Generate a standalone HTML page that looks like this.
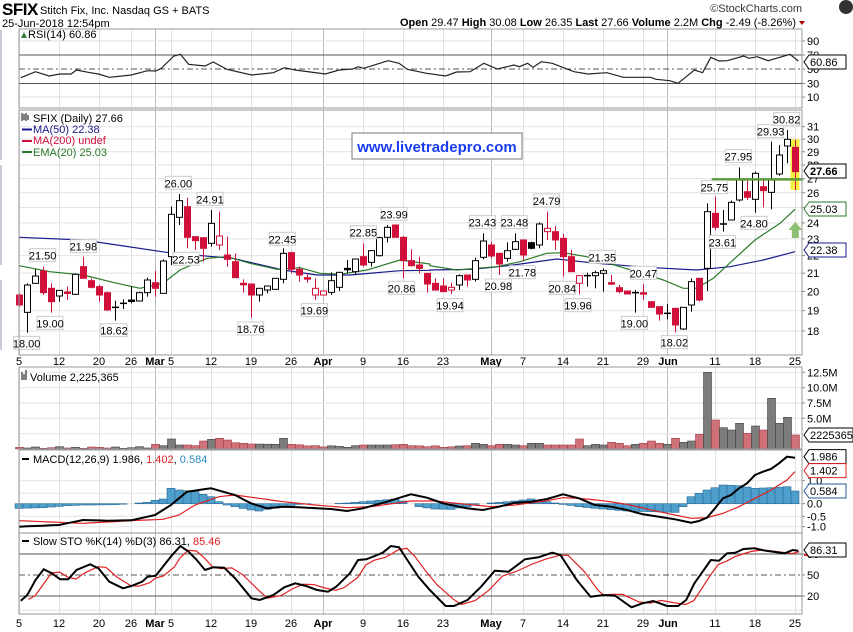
<!DOCTYPE html>
<html><head><meta charset="utf-8">
<style>
body{margin:0;background:#fff;width:853px;height:632px;overflow:hidden}
svg{display:block;font-family:"Liberation Sans",sans-serif}
</style></head><body>
<div id="c"></div>
<script>
var L=19,R=802,W=853;
function X(i){return 19+8*i;}
function interp(k,i){for(var j=0;j<k.length-1;j++){if(i>=k[j][0]&&i<=k[j+1][0]){var t=(i-k[j][0])/(k[j+1][0]-k[j][0]||1);return k[j][1]+t*(k[j+1][1]-k[j][1]);}}return k[k.length-1][1];}
var s='<svg xmlns="http://www.w3.org/2000/svg" width="853" height="632">';
s+='<text x="2" y="15" font-size="17" font-weight="bold" fill="#000" style="letter-spacing:-0.5px">SFIX</text>';
s+='<text x="40" y="14" font-size="11" fill="#000">Stitch Fix, Inc.  Nasdaq GS + BATS</text>';
s+='<text x="2" y="27" font-size="11">25-Jun-2018 12:54pm</text>';
s+='<text x="802" y="12" font-size="11" text-anchor="end" fill="#333">©StockCharts.com</text>';
s+='<text x="796" y="26" font-size="11" text-anchor="end"><tspan font-weight="bold">Open</tspan> 29.47 <tspan font-weight="bold">High</tspan> 30.08 <tspan font-weight="bold">Low</tspan> 26.35 <tspan font-weight="bold">Last</tspan> 27.66 <tspan font-weight="bold">Volume</tspan> 2.2M <tspan font-weight="bold">Chg</tspan> -2.49 (-8.26%)</text>';
s+='<path d="M799,21 l6,0 l-3,4z" fill="#a00"/>';
s+='<circle cx="846" cy="7" r="7" fill="#333"/>';
s+='<rect x="0" y="30" width="2" height="130" fill="#c8ccd8"/><rect x="0" y="165" width="2" height="100" fill="#c8ccd8"/><rect x="0" y="280" width="2" height="70" fill="#c8ccd8"/>';
var weeks=[0,5,10,14,19,24,29,34,43,48,53,63,68,73,78,87,92,97];
var months=[17,38,59,81];
function vgrid(y1,y2){var o='';weeks.forEach(function(i){o+='<line x1="'+(X(i)+.5)+'" y1="'+y1+'" x2="'+(X(i)+.5)+'" y2="'+y2+'" stroke="#e2e2e2"/>';});months.forEach(function(i){o+='<line x1="'+(X(i)+.5)+'" y1="'+y1+'" x2="'+(X(i)+.5)+'" y2="'+y2+'" stroke="#bbb"/>';});return o;}
function hline(y,c,d){return '<line x1="'+L+'" y1="'+y+'" x2="'+R+'" y2="'+y+'" stroke="'+c+'"'+(d?' stroke-dasharray="'+d+'"':'')+'/>';}
function rlab(y,t){return '<text x="807" y="'+(y+4)+'" font-size="11">'+t+'</text><line x1="802" y1="'+y+'" x2="805" y2="'+y+'" stroke="#888"/>';}
function box(y,t,c,bold){var w=t.length*6.2+6;return '<path d="M804,'+y+' l5,-7 h'+w+' v14 h-'+w+'z" fill="#fff" stroke="'+c+'"/><text x="810" y="'+(y+4)+'" font-size="11" '+(bold?'font-weight="bold" font-size="12"':'')+'>'+t+'</text>';}
s+=vgrid(29,108);
[41,97].forEach(function(y){s+=hline(y,'#e2e2e2');});
s+=hline(55,'#555')+hline(83.5,'#555')+hline(69,'#555','6,3,2,3');
s+=rlab(41,'90')+rlab(55,'70')+rlab(69,'50')+rlab(83.5,'30')+rlab(97,'10');
var rsi=[[38,233],[65,215],[90,228],[110,222],[130,222],[140,210],[165,218],[180,222],[200,232],[240,225],[270,212],[285,213],[295,205],[318,168],[330,163],[345,193],[375,198],[390,186],[415,208],[460,225],[500,218],[520,203],[540,210],[595,222],[620,210],[645,207],[655,200],[665,205],[710,182],[730,190],[745,208],[780,220],[815,228],[835,216],[860,215],[885,190],[910,207],[940,195],[950,200],[965,190],[975,202],[990,185],[1010,190],[1050,215],[1075,222],[1110,218],[1140,232],[1190,232],[1200,238],[1225,242],[1240,250],[1255,230],[1270,210],[1285,218],[1300,172],[1315,183],[1330,182],[1360,168],[1370,175],[1385,170],[1405,182],[1445,163],[1460,183]];
s+='<polyline fill="none" stroke="#222" stroke-width="1.2" points="'+rsi.map(function(p){return (p[0]/1.829).toFixed(1)+','+(p[1]/3).toFixed(1);}).join(' ')+'"/>';
s+='<rect x="'+L+'" y="29" width="'+(R-L)+'" height="79" fill="none" stroke="#999"/>';
s+='<path d="M21,38 l3,-6 l3,6z" fill="#3a7a3a"/><text x="28" y="38" font-size="11">RSI(14) 60.86</text>';
s+=box(62,'60.86','#000');
function PY(p){return 331-375.8*Math.log(p/18);}
s+=vgrid(110,355);
for(var p=18;p<=31;p++){s+=hline(PY(p).toFixed(1),'#e2e2e2');s+=rlab(PY(p),String(p));}
var C=[[0,'r',555,585,550,590],[1,'w',525,607,520,668],[2,'w',498,520,478,520],[3,'r',483,548,470,555],[4,'r',535,575,520,608],[5,'w',541,558,541,575],[6,'r',546,550,530,570],[7,'w',493,553,490,555],[8,'r',470,505,440,505],[9,'r',512,532,505,535],[10,'r',530,555,525,575],[11,'r',548,600,545,602],[12,'d',592,592,572,632],[13,'d',580,580,568,597],[14,'k',570,574,530,580],[15,'w',548,573,545,575],[16,'w',510,548,503,560],[17,'r',518,535,483,560],[18,'w',453,550,448,550],[19,'w',313,440,290,465],[20,'w',272,322,252,345],[21,'r',290,382,263,415],[22,'r',380,392,380,420],[23,'r',383,415,383,455],[24,'w',340,400,300,410],[25,'h',378,405,305,420],[26,'r',435,448,380,470],[27,'r',455,503,430,503],[28,'r',520,524,508,548],[29,'r',522,555,522,623],[30,'w',535,555,535,575],[31,'w',528,540,528,550],[32,'w',505,538,505,538],[33,'w',430,508,415,520],[34,'r',428,478,425,490],[35,'r',478,495,470,515],[36,'r',503,507,493,518],[37,'h',535,555,505,570],[38,'h',543,555,543,555],[39,'w',512,547,487,555],[40,'w',487,532,487,543],[41,'k',475,479,450,490],[42,'w',447,485,445,495],[43,'r',440,465,400,470],[44,'w',422,457,422,470],[45,'w',383,437,380,440],[46,'w',352,382,345,397],[47,'r',345,382,343,382],[48,'r',382,452,378,505],[49,'r',452,467,418,470],[50,'r',465,475,440,490],[51,'r',490,522,490,548],[52,'r',520,540,505,540],[53,'r',528,545,505,545],[54,'h',532,540,518,552],[55,'w',497,525,493,540],[56,'r',495,510,495,530],[57,'w',452,508,443,515],[58,'w',393,442,370,448],[59,'r',405,438,396,445],[60,'r',430,462,430,495],[61,'w',422,445,397,455],[62,'w',395,418,370,420],[63,'r',390,435,388,450],[64,'k',398,415,395,418],[65,'w',342,405,337,415],[66,'h',355,365,305,390],[67,'r',365,390,348,420],[68,'r',385,440,372,500],[69,'r',440,485,420,485],[70,'h',497,520,497,553],[71,'d',497,497,488,530],[72,'w',488,497,482,535],[73,'w',482,490,475,545],[74,'r',518,522,495,525],[75,'r',533,545,525,550],[76,'r',543,552,543,552],[77,'d',548,548,540,608],[78,'r',548,552,522,570],[79,'r',575,592,575,592],[80,'r',590,612,590,632],[81,'d',610,610,582,628],[82,'r',595,645,595,667],[83,'w',592,657,592,660],[84,'w',515,585,505,605],[85,'r',505,570,505,575],[86,'w',305,475,280,543],[87,'r',310,352,260,360],[88,'d',342,342,300,365],[89,'w',277,330,272,330],[90,'w',210,270,172,275],[91,'r',245,262,212,270],[92,'w',190,268,185,308],[93,'r',230,242,210,292],[94,'w',210,247,95,298],[95,'w',135,192,105,197],[96,'w',88,108,60,160],[97,'r',112,185,90,240]];
function cy(v){return 110+v/3;}
s+='<rect x="'+(X(97)-4.5)+'" y="'+cy(88)+'" width="9" height="'+((240-88)/3)+'" fill="#f4f040"/>';
var ma=[[19,382],[83,390],[173,430],[233,445],[283,480],[317,495],[350,495],[400,482],[430,481]];
var ma2=[[0,480],[130,478],[250,465],[380,447],[500,460],[650,472],[800,480],[900,470],[1000,450],[1095,425]];
var em=[[19,467],[50,485],[83,495],[117,520],[140,535],[163,520],[180,480],[207,445],[227,440],[250,460],[277,478],[300,473],[320,490],[340,493],[367,480],[400,450],[430,462]];
var em2=[[0,467],[80,480],[200,470],[270,455],[350,430],[400,428],[470,440],[570,470],[700,510],[760,535],[800,535],[850,505],[920,440],[975,390],[1050,340],[1095,298]];
function pl(a,b,c,w){var pts=a.map(function(p){return p[0]+','+cy(p[1]).toFixed(1);}).concat(b.map(function(p){return (430+p[0]/3).toFixed(1)+','+cy(p[1]).toFixed(1);}));return '<polyline fill="none" stroke="'+c+'" stroke-width="'+w+'" points="'+pts.join(' ')+'"/>';}
s+=pl(ma,ma2,'#1a1a8c',1.2)+pl(em,em2,'#2a7a2a',1.2);
C.forEach(function(c){var x=X(c[0]),t=c[1],bt=cy(c[2]),bb=cy(c[3]),h=cy(c[4]),l=cy(c[5]);
 var col=(t=='r'||t=='h')?'#d0103a':'#000';
 s+='<line x1="'+(x+.5)+'" y1="'+h+'" x2="'+(x+.5)+'" y2="'+l+'" stroke="'+col+'"/>';
 if(t=='d'){s+='<line x1="'+(x-3)+'" y1="'+bt+'" x2="'+(x+4)+'" y2="'+bt+'" stroke="#000" stroke-width="1.5"/>';}
 else{var hh=Math.max(bb-bt,1.5);var f=(t=='r')?'#d0103a':(t=='k'?'#000':'#fff');s+='<rect x="'+(x-2.5)+'" y="'+bt+'" width="6" height="'+hh+'" fill="'+f+'" stroke="'+col+'" stroke-width="1"/>';}
});
s+='<line x1="'+(430+845/3)+'" y1="'+cy(208)+'" x2="'+(430+1120/3)+'" y2="'+cy(208)+'" stroke="#5a9a3a" stroke-width="2.5"/>';
s+='<path d="M'+(430+1075/3)+','+cy(360)+' l7,-8 l7,8 h-3.5 v8 h-7 v-8z" fill="#8cc070"/>';
var lb=[[80,700,'18.00'],[128,437,'21.50'],[150,640,'19.00'],[250,410,'21.98'],[342,662,'18.62'],[535,220,'26.00'],[630,268,'24.91'],[558,448,'22.53'],[752,657,'18.76'],[847,388,'22.45'],[943,602,'19.69'],[1090,368,'22.85'],[1182,313,'23.99'],[1205,535,'20.86']];
var lb2=[[60,587,'19.94'],[157,338,'23.43'],[205,528,'20.98'],[253,338,'23.48'],[277,488,'21.78'],[350,273,'24.79'],[397,535,'20.84'],[444,587,'19.96'],[517,442,'21.35'],[640,490,'20.47'],[613,640,'19.00'],[733,698,'18.02'],[853,233,'25.75'],[877,397,'23.61'],[925,140,'27.95'],[972,340,'24.80'],[1022,65,'29.93'],[1070,28,'30.82']];
function plab(x,y,t){return '<rect x="'+(x-13)+'" y="'+(y-7)+'" width="26" height="13" fill="#fff" stroke="#ccc"/><text x="'+x+'" y="'+(y+4)+'" font-size="11" text-anchor="middle">'+t+'</text>';}
lb.forEach(function(a){s+=plab(a[0]/3,cy(a[1]),a[2]);});
lb2.forEach(function(a){s+=plab(430+a[0]/3,cy(a[1]),a[2]);});
s+='<rect x="352" y="133" width="170" height="26" fill="#fff" stroke="#777"/><text x="437" y="152" font-size="15" font-weight="bold" fill="#1a3cf0" text-anchor="middle">www.livetradepro.com</text>';
s+='<rect x="'+L+'" y="110" width="'+(R-L)+'" height="245" fill="none" stroke="#999"/>';
s+='<text x="33" y="122" font-size="11">SFIX (Daily) 27.66</text><path d="M22,113 v8 M24,114 v6 M26,113 v8 M28,115 v5" stroke="#000"/>';
s+='<line x1="22" y1="129.5" x2="32" y2="129.5" stroke="#1a1a8c" stroke-width="2"/><text x="33" y="133" font-size="11" fill="#1a1a8c">MA(50) 22.38</text>';
s+='<line x1="22" y1="141" x2="32" y2="141" stroke="#d0103a" stroke-width="2"/><text x="33" y="144" font-size="11" fill="#d0103a">MA(200) undef</text>';
s+='<line x1="22" y1="152" x2="32" y2="152" stroke="#2a7a2a" stroke-width="2"/><text x="33" y="156" font-size="11" fill="#2a7a2a">EMA(20) 25.03</text>';
s+=box(cy(183),'27.66','#000',1)+box(cy(297),'25.03','#2a7a2a')+box(cy(420),'22.38','#1a1a8c');
var dl=[[0,'5'],[5,'12'],[10,'20'],[14,'26'],[19,'5'],[24,'12'],[29,'19'],[34,'26'],[43,'9'],[48,'16'],[53,'23'],[63,'7'],[68,'14'],[73,'21'],[78,'29'],[87,'11'],[92,'18'],[97,'25']];
var ml=[[17,'Mar',155],[38,'Apr',323],[59,'May',491],[81,'Jun',668]];
function dates(y){var o='';dl.forEach(function(d){o+='<text x="'+X(d[0])+'" y="'+y+'" font-size="11" text-anchor="middle">'+d[1]+'</text>';});ml.forEach(function(m){o+='<text x="'+m[2]+'" y="'+y+'" font-size="11" font-weight="bold" text-anchor="middle">'+m[1]+'</text>';});return o;}
s+=dates(365);
s+=vgrid(367,449);
[372.3,387.7,403,418.3,433.7].forEach(function(y){s+=hline(y,'#e2e2e2');});
s+=rlab(372.3,'12.5M')+rlab(387.7,'10.0M')+rlab(403,'7.5M')+rlab(418.3,'5.0M');
var vo=[[0,277],[16,277],[17,268],[18,272],[19,252],[20,270],[21,270],[22,272],[23,258],[24,253],[25,250],[26,255],[27,263],[28,265],[29,267],[32,268],[33,250],[34,268],[37,272],[41,275],[42,272],[43,270],[46,270],[48,268],[49,272],[55,275],[56,272],[57,265],[58,268],[59,272],[60,268],[61,268],[63,272],[64,265],[65,265],[66,270],[69,270],[70,252],[71,272],[72,268],[73,270],[74,262],[75,265],[76,272],[77,268],[78,265],[79,258],[80,265],[81,268],[82,250],[83,262],[84,258],[85,238],[86,52],[87,195],[88,218],[89,225],[90,205],[91,235],[92,213],[93,225],[94,130],[95,205],[96,187],[97,240]];
var jitter=[0,2,-1,3,1,-2,2,0,3,-1];
C.forEach(function(c){var i=c[0];var v=interp(vo,i);if(i<17||(i>35&&i<42)||(i>49&&i<56))v+=jitter[i%10];v=Math.min(v,280);var y=355+v/3;var red=(c[1]=='r'||c[1]=='h');
 s+='<rect x="'+(X(i)-3.5)+'" y="'+y.toFixed(1)+'" width="8" height="'+(449-y).toFixed(1)+'" fill="'+(red?'#d07078':'#7c7c7c')+'" stroke="'+(red?'#a04048':'#444')+'" stroke-width=".6"/>';});
s+='<rect x="'+L+'" y="367" width="'+(R-L)+'" height="82" fill="none" stroke="#999"/>';
s+='<path d="M22,380 v-8 M24,380 v-6 M26,380 v-10" stroke="#555" stroke-width="1.5"/><text x="30" y="381" font-size="11">Volume 2,225,365</text>';
s+='<path d="M804,435 l5,-7 h44 v14 h-44z" fill="#fff" stroke="#000"/><text x="810" y="439" font-size="11">2225365.0</text>';
s+=vgrid(450,533);
function my(v){return 355+v/3;}
[my(377),my(415),my(446),my(484),my(515)].forEach(function(y){s+=hline(y.toFixed(1),'#e2e2e2');});
s+=rlab(my(377),'1.0')+rlab(my(446),'0.0')+rlab(my(484),'-0.5')+rlab(my(515),'-1.0');
var hk=[[0,460],[3,458],[6,452],[8,450],[12,449],[14,446],[16,442],[17,436],[18,432],[19,400],[20,405],[21,407],[22,410],[23,418],[24,425],[25,440],[26,450],[27,455],[28,460],[29,465],[30,468],[31,463],[33,455],[35,448],[37,446],[39,446],[41,444],[43,440],[45,436],[47,432],[48,438],[49,446],[50,455],[52,462],[54,463],[56,455],[58,446],[60,442],[62,438],[64,432],[66,440],[68,448],[70,455],[73,462],[76,468],[79,470],[82,472],[83,455],[84,425],[85,415],[86,405],[87,398],[88,390],[90,392],[92,400],[94,398],[96,395],[97,408]];
var z=my(446);
for(var i=0;i<98;i++){var y=my(interp(hk,i));var t=Math.min(y,z),h=Math.abs(y-z);s+='<rect x="'+(X(i)-4)+'" y="'+t.toFixed(1)+'" width="8" height="'+h.toFixed(1)+'" fill="#4f9fcc" stroke="#2a6a9a" stroke-width=".6"/>';}
var mk=[[0,515],[5,510],[8,495],[11,497],[14,496],[17,480],[19,450],[21,410],[24,400],[27,420],[29,445],[31,460],[33,455],[36,458],[39,462],[41,468],[43,460],[46,440],[48,425],[49,418],[51,428],[53,445],[56,460],[58,465],[60,455],[62,443],[64,440],[66,432],[68,418],[70,430],[72,450],[74,455],[76,465],[78,478],[80,485],[82,493],[84,503],[85,498],[86,488],[87,460],[88,430],[89,420],[90,400],[91,385],[92,360],[93,350],[94,342],[95,325],[96,305],[97,308]];
var sk=[[0,497],[8,505],[14,497],[18,493],[20,480],[22,450],[25,425],[27,420],[30,430],[33,440],[37,450],[41,458],[44,455],[47,445],[49,438],[52,438],[56,448],[59,455],[62,450],[66,437],[68,428],[70,430],[73,437],[76,448],[79,465],[82,480],[84,490],[86,488],[88,475],[90,455],[92,430],[94,405],[96,375],[97,350]];
function line(k,c,w,f){var pts=[];for(var i=0;i<98;i++)pts.push(X(i)+','+f(interp(k,i)).toFixed(1));return '<polyline fill="none" stroke="'+c+'" stroke-width="'+w+'" points="'+pts.join(' ')+'"/>';}
s+=line(sk,'#e02020',1.2,my)+line(mk,'#000',2,my);
s+='<rect x="'+L+'" y="450" width="'+(R-L)+'" height="83" fill="none" stroke="#999"/>';
s+='<line x1="22" y1="459" x2="29" y2="459" stroke="#000" stroke-width="2"/><text x="33" y="463" font-size="11">MACD(12,26,9) 1.986, <tspan fill="#e02020">1.402</tspan>, <tspan fill="#2a8ac0">0.584</tspan></text>';
s+=box(my(305),'1.986','#000')+box(my(347),'1.402','#e02020')+box(my(408),'0.584','#2a5a9a');
s+=vgrid(533,614);
function sy(v){return 530+v/3;}
[sy(10),sy(241)].forEach(function(y){s+=hline(y.toFixed(1),'#e2e2e2');});
s+=hline(sy(72),'#555')+hline(sy(198),'#555')+hline(sy(135),'#555','6,3,2,3');
s+=rlab(sy(72),'80')+rlab(sy(135),'50')+rlab(sy(198),'20');
var st=[[38,212],[50,195],[65,150],[80,118],[95,130],[110,148],[125,148],[140,120],[165,103],[180,115],[200,155],[225,175],[240,168],[260,155],[270,140],[285,137],[305,95],[315,75],[330,48],[345,65],[360,90],[375,120],[390,112],[410,113],[430,145],[460,205],[475,210],[500,195],[520,172],[540,160],[560,168],[580,180],[600,185],[615,170],[640,130],[655,90],[670,88],[690,75],[700,68],[715,48],[730,52],[745,90],[765,140],[785,178],[815,228],[830,228],[855,210],[880,170],[905,122],[930,125],[960,88],[985,82],[1010,68],[1025,75],[1055,150],[1080,200],[1090,198],[1105,195],[1125,197],[1155,232],[1175,220],[1195,213],[1220,228],[1240,228],[1255,210],[1270,160],[1285,125],[1300,90],[1315,92],[1330,70],[1345,68],[1360,57],[1380,55],[1400,62],[1435,70],[1450,60],[1460,62]];
var red=[];for(var j=0;j<st.length;j++){var a=st[Math.max(0,j-1)],b=st[j];red.push([b[0]+14,(a[1]+b[1]*2)/3*0.95+135*0.05]);}
red=red.filter(function(p){return p[0]<=1462;});red.push([1462,65]);
function spl(a,c,w){return '<polyline fill="none" stroke="'+c+'" stroke-width="'+w+'" points="'+a.map(function(p){return (p[0]/1.829).toFixed(1)+','+sy(p[1]).toFixed(1);}).join(' ')+'"/>';}
s+=spl(red,'#e02020',1.2)+spl(st,'#000',2);
s+='<rect x="'+L+'" y="533" width="'+(R-L)+'" height="81" fill="none" stroke="#999"/>';
s+='<line x1="22" y1="541" x2="29" y2="541" stroke="#000" stroke-width="2"/><text x="33" y="545" font-size="11">Slow STO %K(14) %D(3) 86.31, <tspan fill="#e02020">85.46</tspan></text>';
s+='<line x1="804" y1="'+sy(75)+'" x2="840" y2="'+sy(75)+'" stroke="#e02020" stroke-width="2"/>';
s+=box(sy(60),'86.31','#000');
s+=dates(627);
s+='</svg>';
document.getElementById('c').innerHTML=s;
</script>
</body></html>
